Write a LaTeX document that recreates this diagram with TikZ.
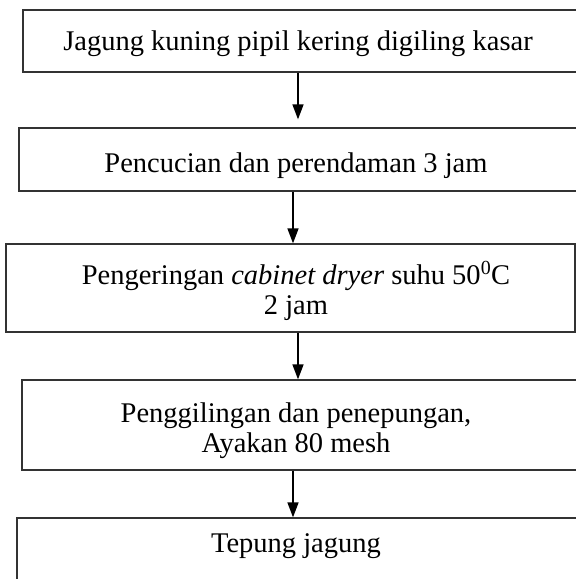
\documentclass[tikz,border=0pt]{standalone}
\usepackage{fontspec}
\setmainfont{Liberation Serif}
\usetikzlibrary{arrows.meta}

\tikzset{
    frame/.style={draw=black!80, line width=1.3pt, inner sep=0pt},
    steptext/.style={anchor=base, align=center, inner sep=0pt, font=\fontsize{28.5}{30}\selectfont},
    flow/.style={line width=1.6pt, -{Triangle[width=11pt, length=15pt]}}
}

\begin{document}
\begin{tikzpicture}[x=1pt, y=-1pt]
            % page
            \useasboundingbox (0,0) rectangle (576,579);
            \clip (0,0) rectangle (576,579);

            % boxes
            \node[frame, minimum width=567pt, minimum height=62pt] (b1) at (306.5, 41) {};
            \node[frame, minimum width=571pt, minimum height=63pt] (b2) at (304.5, 159.5) {};
            \node[frame, minimum width=569pt, minimum height=88pt] (b3) at (290.5, 288) {};
            \node[frame, minimum width=568pt, minimum height=90pt] (b4) at (306, 425) {};
            \node[frame, minimum width=573pt, minimum height=102pt] (b5) at (303.5, 569) {};

            % texts (base = last line)
            \node[steptext] (t1) at (298, 50) {Jagung kuning pipil kering digiling kasar};
            \node[steptext] (t2) at (296, 172) {Pencucian dan perendaman 3 jam};
            \node[steptext] (t3) at (296, 314) {Pengeringan \textit{cabinet dryer} suhu 50\textsuperscript{0}C\\2 jam};
            \node[steptext] (t4) at (296, 452) {Penggilingan dan penepungan,\\Ayakan 80 mesh};
            \node[steptext] (t5) at (296, 552) {Tepung jagung};

            % arrows
            \foreach \i/\j/\dx/\gap in {1/2/0/8, 2/3/-3/0, 3/4/2/0, 4/5/-3/0}
                {
                    \draw[flow, shorten >=\gap pt] ([xshift=\dx pt]t\i |- b\i.south) -- ([xshift=\dx pt]t\i |- b\j.north);
                }

        \end{tikzpicture}
\end{document}
